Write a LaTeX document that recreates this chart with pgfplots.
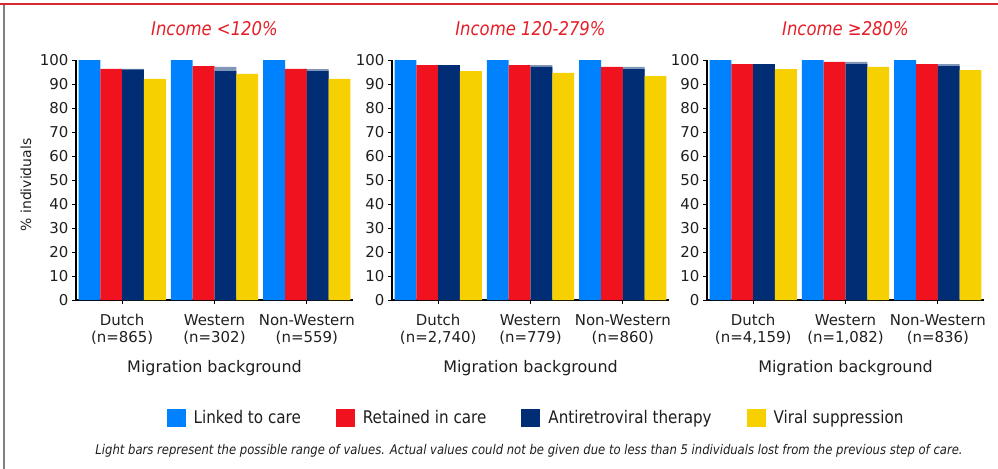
\documentclass[border=0pt]{standalone}
\usepackage{pgfplots}
\pgfplotsset{compat=1.18}
\usepackage{pgfplotstable}
\usepackage{fontspec}
\setmainfont{DejaVu Sans}
\newfontfamily\tah{DejaVu Sans}[FakeStretch=0.87]

\definecolor{linkblue}{RGB}{0,130,255}
\definecolor{retred}{RGB}{240,18,30}
\definecolor{artblue}{RGB}{0,45,115}
\definecolor{artlight}{RGB}{128,150,185}
\definecolor{vsyellow}{RGB}{246,208,0}
\definecolor{titlered}{RGB}{230,30,40}
\definecolor{framered}{RGB}{215,40,50}
\definecolor{framegray}{RGB}{128,128,128}
\definecolor{txt}{RGB}{30,30,30}

% x: 0 Dutch, 1 Western, 2 Non-Western
\pgfplotstableread{
x linked retained art artlight vs
0 100 96.3 96.0 96.3 92.1
1 100 97.5 95.4 97.1 94.2
2 100 96.3 95.4 96.2 92.1
}\panelA
\pgfplotstableread{
x linked retained art artlight vs
0 100 97.9 97.9 97.9 95.4
1 100 97.9 97.1 97.9 94.6
2 100 97.1 96.25 97.1 93.3
}\panelB
\pgfplotstableread{
x linked retained art artlight vs
0 100 98.3 98.3 98.3 96.25
1 100 99.2 98.3 99.2 97.1
2 100 98.3 97.5 98.3 95.8
}\panelC

\pgfplotsset{
  panel/.style={
    scale only axis, width=277bp, height=240bp,
    anchor=south west,
    xmin=-0.5, xmax=2.5, ymin=0, ymax=100,
    ybar=0pt, bar width=21.8bp,
    axis lines=left, axis line style={-, line width=1.2bp, black},
    xtick={0,1,2}, ytick={0,10,...,100},
    tick align=outside, major tick length=4bp,
    tick style={line width=1bp, black},
    /pgf/number format/assume math mode=true,
    tick label style={font=\fontsize{15}{17}\selectfont, text=txt},
    xticklabel style={align=center, yshift=-7bp},
    title style={font=\tah\itshape\fontsize{19}{21}\selectfont, text=titlered, at={(0.5,1)}, anchor=base, yshift=19bp},
    xlabel={Migration background},
    xlabel style={font=\fontsize{16}{18}\selectfont, text=txt, at={(axis description cs:0.5,0)}, anchor=base, yshift=-72bp},
  },
  s1/.style={bar shift=-32.7bp, fill=linkblue, draw=none,
     legend image code/.code={\fill[linkblue] (0bp,-9bp) rectangle (19bp,9bp); \path (25bp,0bp);}},
  s2/.style={bar shift=-10.9bp, fill=retred, draw=none,
     legend image code/.code={\fill[retred] (0bp,-9bp) rectangle (19bp,9bp); \path (25bp,0bp);}},
  s3/.style={bar shift=10.9bp, fill=artblue, draw=none,
     legend image code/.code={\fill[artblue] (0bp,-9bp) rectangle (19bp,9bp); \path (25bp,0bp);}},
  s3l/.style={bar shift=10.9bp, fill=artlight, draw=none, forget plot},
  s4/.style={bar shift=32.7bp, fill=vsyellow, draw=none,
     legend image code/.code={\fill[vsyellow] (0bp,-9bp) rectangle (19bp,9bp); \path (25bp,0bp);}},
}

\begin{document}
\begin{tikzpicture}
\path[use as bounding box] (0,0) rectangle (998bp,-469bp);
\draw[line width=2bp, framegray] (3.7bp,-4bp) -- (3.7bp,-469bp);
\draw[line width=2bp, framered] (0,-4.3bp) -- (998bp,-4.3bp);

\begin{axis}[panel, at={(76bp,-300bp)},
  title={Income <120\%},
  ylabel={\% individuals},
  ylabel style={font=\fontsize{14}{16}\selectfont, text=txt, at={(axis description cs:-0.1805,0.479)}, anchor=center},
  xticklabels={{Dutch\\(n=865)},{Western\\(n=302)},{Non-Western\\(n=559)}}]
\addplot[s1] table[x=x,y=linked]{\panelA};
\addplot[s2] table[x=x,y=retained]{\panelA};
\addplot[s3l] table[x=x,y=artlight]{\panelA};
\addplot[s3] table[x=x,y=art]{\panelA};
\addplot[s4] table[x=x,y=vs]{\panelA};
\end{axis}

\begin{axis}[panel, at={(392bp,-300bp)},
  title={Income 120-279\%},
  xticklabels={{Dutch\\(n=2,740)},{Western\\(n=779)},{Non-Western\\(n=860)}},
  legend columns=4,
  legend style={at={(0.52,-0.4917)}, anchor=center, draw=none, fill=none,
    font=\tah\fontsize{17.5}{19}\selectfont, text=txt,
    /tikz/every even column/.append style={column sep=33bp}},
  ]
\addplot[s1] table[x=x,y=linked]{\panelB};
\addlegendentry{Linked to care}
\addplot[s2] table[x=x,y=retained]{\panelB};
\addlegendentry{Retained in care}
\addplot[s3l] table[x=x,y=artlight]{\panelB};
\addplot[s3] table[x=x,y=art]{\panelB};
\addlegendentry{Antiretroviral therapy}
\addplot[s4] table[x=x,y=vs]{\panelB};
\addlegendentry{Viral suppression}
\end{axis}

\begin{axis}[panel, at={(707bp,-300bp)},
  title={Income ≥280\%},
  xticklabels={{Dutch\\(n=4,159)},{Western\\(n=1,082)},{Non-Western\\(n=836)}}]
\addplot[s1] table[x=x,y=linked]{\panelC};
\addplot[s2] table[x=x,y=retained]{\panelC};
\addplot[s3l] table[x=x,y=artlight]{\panelC};
\addplot[s3] table[x=x,y=art]{\panelC};
\addplot[s4] table[x=x,y=vs]{\panelC};
\end{axis}

\node[font=\tah\itshape\fontsize{13.4}{15}\selectfont, text=txt, anchor=base] at (529bp,-454bp)
  {Light bars represent the possible range of values. Actual values could not be given due to less than 5 individuals lost from the previous step of care.};
\end{tikzpicture}
\end{document}
